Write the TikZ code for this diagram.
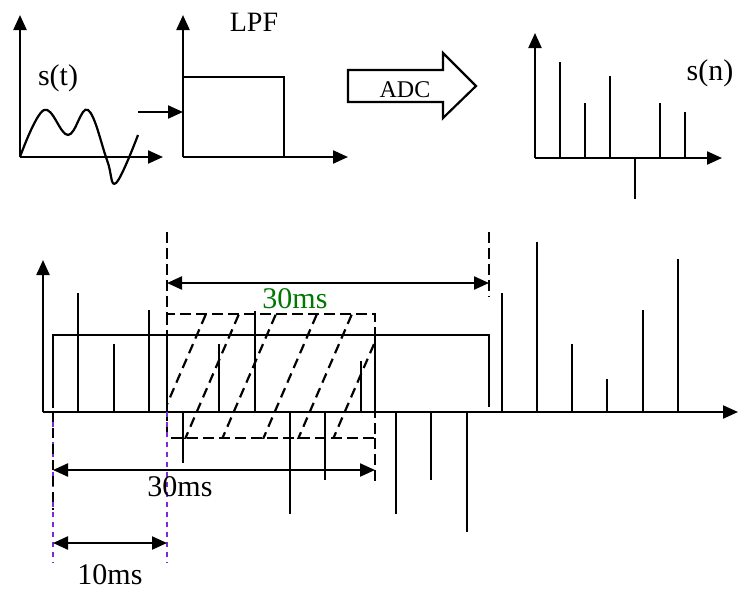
\documentclass[tikz,border=0pt]{standalone}
\usepackage{fontspec}
\setmainfont{Liberation Serif}
\usetikzlibrary{arrows.meta}
\definecolor{dgreen}{RGB}{0,120,0}
\definecolor{violetline}{RGB}{125,40,220}
\tikzset{
  ln/.style={line width=2.2pt},
  arr/.style={ln,-{Triangle[length=15pt,width=13pt]}},
  darr/.style={ln,{Triangle[length=15pt,width=13pt]}-{Triangle[length=15pt,width=13pt]}},
  dsh/.style={ln,dash pattern=on 11pt off 5pt},
  hatch/.style={ln,dash pattern=on 10pt off 6pt},
  vdsh/.style={line width=1.3pt,violetline,dash pattern=on 5pt off 5pt},
  lbl/.style={inner sep=0pt,anchor=base,font=\fontsize{30}{36}\selectfont},
}
\begin{document}
\begin{tikzpicture}[x=1pt,y=-1pt]
\useasboundingbox (0,0) rectangle (738,592);
% ---------- top: s(t)
\coordinate (o1) at (20,157);
\draw[arr] (o1) -- (20,15);
\draw[arr] (o1) -- (163,157);
\draw[ln] plot[smooth,tension=0.65] coordinates {(20,157) (44,110) (68,135) (88,110) (107,160) (116,183) (138,135)};
\node[lbl] (st) at (58,85) {s(t)};
% ---------- LPF
\coordinate (o2) at (183,157);
\coordinate (in1) at (138,112);
\coordinate (in2) at (183,112);
\draw[arr] (in1) -- (in2);
\draw[arr] (o2) -- (183,15);
\draw[arr] (o2) -- (348,157);
\draw[ln] (183,77) -- (284,77) -- (284,157);
\node[lbl,font=\fontsize{28}{34}\selectfont] (lpf) at (254,31) {LPF};
% ---------- ADC arrow
\draw[ln] (348,70) -- (443,70) -- (443,53) -- (476,86) -- (443,118) -- (443,102) -- (348,102) -- cycle;
\node[lbl,font=\fontsize{24}{30}\selectfont] (adc) at (405,97) {ADC};
% ---------- s(n)
\coordinate (o3) at (535,158);
\draw[arr] (o3) -- (535,33);
\draw[arr] (o3) -- (722,158);
\foreach \x/\t in {560/62,585/103,610/76,635/199,660/103,685/112}
  \draw[ln] (\x,158) -- (\x,\t);
\node[lbl] (sn) at (710,80) {s(n)};
% ---------- bottom signal
\coordinate (o4) at (43,412);
\draw[arr] (o4) -- (43,260);
\draw[arr] (o4) -- (738,412);
\foreach \x/\t in {78/293,114/344,149/310,167/335,219/344,255/311,361/361,375/335,
                   502/293,537/242,572/344,607/379,643/310,678/259,
                   183/463,290/514,325/480,396/514,431/480,467/532}
  \draw[ln] (\x,412) -- (\x,\t);
% solid frame
\draw[ln] (53,408) -- (53,335) -- (489,335) -- (489,407);
% hatched dashed frame
\begin{scope}
  \clip (167,314) rectangle (375,438);
  \foreach \xc in {197,230,267,308,343,378}
    \draw[hatch] (\xc+15,300) -- (\xc-54,460);
\end{scope}
\draw[dsh] (167,314) rectangle (375,438);
\draw[dsh] (375,438) -- (375,483);
% top dashed markers and 30ms
\draw[dsh] (167,232) -- (167,314);
\draw[dsh] (489,232) -- (489,297);
\coordinate (ta) at (167,283);
\coordinate (tb) at (489,283);
\draw[darr] (ta) -- (tb);
\node[lbl,text=dgreen] (g30) at (295,308) {30ms};
% lower markers
\draw[vdsh] (53,412) -- (53,563);
\draw[vdsh] (167,412) -- (167,563);
\draw[ln,dash pattern=on 10pt off 6pt] (53,412) -- (53,510);
\coordinate (ba) at (53,470);
\coordinate (bb) at (375,470);
\draw[darr] (ba) -- (bb);
\node[lbl] (b30) at (180,496) {30ms};
\coordinate (ca) at (53,543);
\coordinate (cb) at (167,543);
\draw[darr] (ca) -- (cb);
\node[lbl] (t10) at (110,584) {10ms};
\end{tikzpicture}
\end{document}
